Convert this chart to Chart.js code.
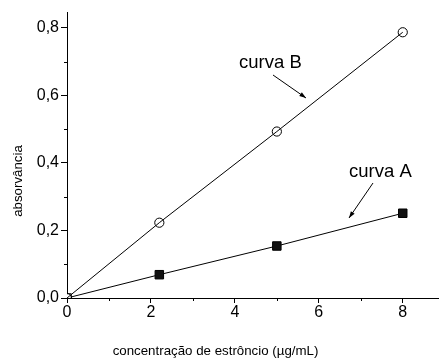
<!DOCTYPE html>
<html><head><meta charset="utf-8">
<script src="https://cdn.jsdelivr.net/npm/chart.js@4"></script>
<style>html,body{margin:0;padding:0;background:#fff}#wrap{width:445px;height:358px}</style>
</head><body><div id="wrap"><canvas id="c" width="445" height="358"></canvas></div>
<script>
const concB = [0, 2.2, 5, 8];
const absB = [0, 0.223, 0.493, 0.787];
const concA = [0, 2.2, 5, 8];
const absA = [0, 0.069, 0.154, 0.251];
const xTicks = [0, 2, 4, 6, 8];
const yTicks = [0, 0.2, 0.4, 0.6, 0.8];
const xMinor = [1, 3, 5, 7];
const yMinor = [0.1, 0.3, 0.5, 0.7];
const labelB = "curva B";
const labelA = "curva A";
const xTitle = "concentração de estrôncio (µg/mL)";
const yTitle = "absorvância";

const FONT = "'Liberation Sans', Arial, sans-serif";
const toPts = (xs, ys) => xs.map((x, i) => ({x: x, y: ys[i]}));

const extras = {
  id: 'extras',
  afterDraw(chart) {
    const ctx = chart.ctx, xs = chart.scales.x, ys = chart.scales.y;
    ctx.save();
    ctx.strokeStyle = '#000'; ctx.lineWidth = 1;
    xMinor.forEach(v => { const p = Math.round(xs.getPixelForValue(v)) + 0.5; ctx.beginPath(); ctx.moveTo(p, ys.bottom); ctx.lineTo(p, ys.bottom + 3); ctx.stroke(); });
    yMinor.forEach(v => { const p = Math.round(ys.getPixelForValue(v)) + 0.5; ctx.beginPath(); ctx.moveTo(xs.left, p); ctx.lineTo(xs.left - 3, p); ctx.stroke(); });
    ctx.fillStyle = '#000';
    ctx.font = '18.5px ' + FONT;
    ctx.textBaseline = 'alphabetic'; ctx.textAlign = 'left';
    ctx.fillText(labelB, 239, 67.5);
    ctx.fillText(labelA, 349, 176.5);
    const arrow = (x1, y1, x2, y2) => {
      ctx.beginPath(); ctx.moveTo(x1, y1); ctx.lineTo(x2, y2); ctx.stroke();
      const a = Math.atan2(y2 - y1, x2 - x1), L = 7, w = 0.33;
      ctx.beginPath(); ctx.moveTo(x2, y2);
      ctx.lineTo(x2 - L * Math.cos(a - w), y2 - L * Math.sin(a - w));
      ctx.lineTo(x2 - L * Math.cos(a + w), y2 - L * Math.sin(a + w));
      ctx.closePath(); ctx.fill();
    };
    arrow(273, 75, 306, 98);
    arrow(373, 183, 349, 218);
    ctx.font = '13.3px ' + FONT; ctx.fillStyle = '#000';
    ctx.textAlign = 'center'; ctx.textBaseline = 'middle';
    ctx.fillText(xTitle, 215.5, 351);
    ctx.translate(18, 181); ctx.rotate(-Math.PI / 2);
    ctx.fillText(yTitle, 0, 0);
    ctx.restore();
  }
};

new Chart(document.getElementById('c'), {
  type: 'scatter',
  data: {
    datasets: [
      { label: labelB, data: toPts(concB, absB), showLine: true, borderColor: '#000', borderWidth: 1,
        pointStyle: 'circle', pointRadius: 4.6, pointBackgroundColor: 'rgba(255,255,255,0)', pointBorderColor: '#000', pointBorderWidth: 1 },
      { label: labelA, data: toPts(concA, absA), showLine: true, borderColor: '#000', borderWidth: 1,
        pointStyle: 'rect', pointRadius: 6, pointBackgroundColor: ['#fff', '#111', '#111', '#111'], pointBorderColor: '#000', pointBorderWidth: 1 }
    ]
  },
  options: {
    responsive: false, animation: false, devicePixelRatio: 1,
    layout: { padding: { top: 12, right: 0, left: 0, bottom: 0 } },
    plugins: { legend: { display: false }, tooltip: { enabled: false } },
    scales: {
      x: { type: 'linear', min: 0, max: 8.84,
        afterBuildTicks: s => { s.ticks = xTicks.map(v => ({value: v})); },
        afterFit: s => { s.height = 60; },
        grid: { drawOnChartArea: false, drawTicks: true, tickLength: 5, color: '#000' },
        border: { color: '#000', width: 1 },
        ticks: { color: '#000', font: { family: FONT, size: 16 }, padding: 0, callback: v => String(v) } },
      y: { type: 'linear', min: 0, max: 0.847,
        afterBuildTicks: s => { s.ticks = yTicks.map(v => ({value: v})); },
        afterFit: s => { s.width = 67; },
        grid: { drawOnChartArea: false, drawTicks: true, tickLength: 6, color: '#000' },
        border: { color: '#000', width: 1 },
        ticks: { color: '#000', font: { family: FONT, size: 16 }, padding: 2, callback: v => v.toFixed(1).replace('.', ',') } }
    }
  },
  plugins: [extras]
});
</script></body></html>
